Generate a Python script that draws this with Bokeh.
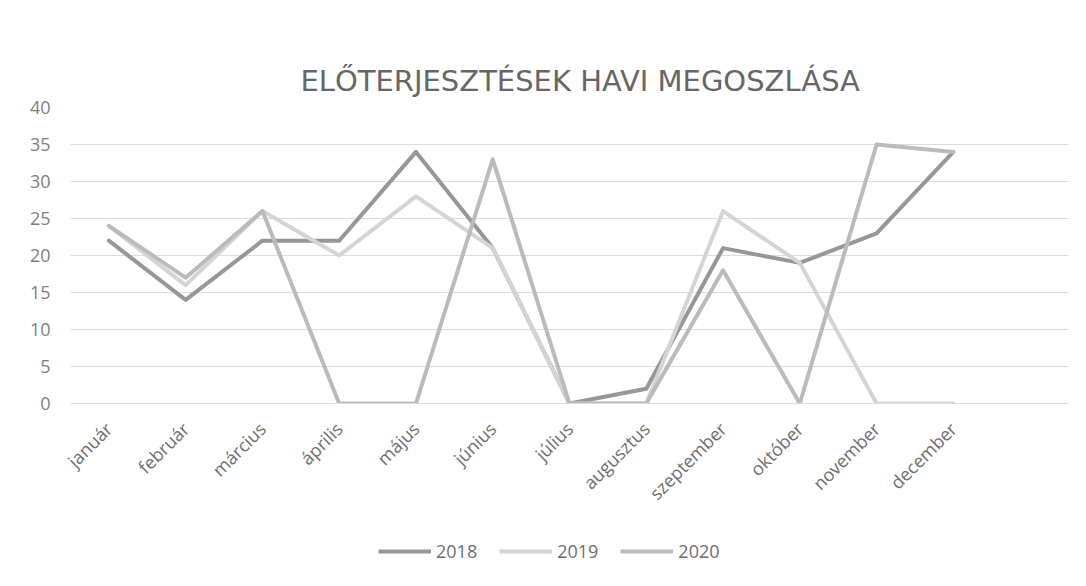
from bokeh.plotting import figure
from bokeh.layouts import column
from bokeh.models import FactorRange, Range1d, Legend, LegendItem, ColumnDataSource, FixedTicker, Title
from bokeh.embed import file_html
from bokeh.resources import INLINE
import math

months = ["január", "február", "március", "április", "május", "június",
          "július", "augusztus", "szeptember", "október", "november", "december"]
y2018 = [22, 14, 22, 22, 34, 21, 0, 2, 21, 19, 23, 34]
y2019 = [24, 16, 26, 20, 28, 21, 0, 0, 26, 19, 0, 0]
y2020 = [24, 17, 26, 0, 0, 33, 0, 0, 18, 0, 35, 34]
series_names = ["2018", "2019", "2020"]
series_colors = ["#979797", "#d4d4d4", "#bbbbbb"]
y_ticks = [0, 5, 10, 15, 20, 25, 30, 35, 40]

FONT = "Open Sans"
W = 1070

p = figure(width=W, height=520, output_backend="svg", toolbar_location=None,
           x_range=FactorRange(*(months + [" "]), range_padding=0),
           y_range=Range1d(0, 40),
           min_border_left=70, min_border_right=2, min_border_top=107, min_border_bottom=117)
p.outline_line_color = None
p.background_fill_color = "white"
p.border_fill_color = "white"

p.title = Title(text="ELŐTERJESZTÉSEK HAVI MEGOSZLÁSA", align="left",
                text_font="DejaVu Sans", text_font_size="29px", text_font_style="normal",
                text_color="#666666", offset=230, standoff=20)

for name, vals, col in zip(series_names, [y2018, y2019, y2020], series_colors):
    src = ColumnDataSource(dict(x=months, y=vals))
    p.line("x", "y", source=src, line_color=col, line_width=4,
           line_join="round", line_cap="round")

p.xgrid.grid_line_color = None
p.ygrid.grid_line_color = "#dcdcdc"
p.ygrid.grid_line_width = 1
p.yaxis.ticker = FixedTicker(ticks=y_ticks)
p.yaxis.axis_line_color = None
p.yaxis.major_tick_line_color = None
p.yaxis.minor_tick_line_color = None
p.yaxis.major_label_text_font = FONT
p.yaxis.major_label_text_font_size = "18px"
p.yaxis.major_label_text_color = "#808080"
p.yaxis.major_label_standoff = 14

p.xaxis.axis_line_color = "#dcdcdc"
p.xaxis.major_tick_line_color = None
p.xaxis.minor_tick_line_color = None
p.xaxis.major_label_orientation = math.pi / 4
p.xaxis.major_label_text_font = FONT
p.xaxis.major_label_text_font_size = "18px"
p.xaxis.major_label_text_color = "#6e6e6e"
p.xaxis.major_label_standoff = 16

# legend strip below the chart
lf = figure(width=W, height=50, output_backend="svg", toolbar_location=None,
            x_range=FactorRange(*months), y_range=Range1d(1000, 1001),
            min_border=0, min_border_left=0, min_border_right=0, min_border_top=0, min_border_bottom=0)
lf.axis.visible = False
lf.grid.visible = False
lf.outline_line_color = None
lf.border_fill_color = "white"
items = []
for name, vals, col in zip(series_names, [y2018, y2019, y2020], series_colors):
    src = ColumnDataSource(dict(x=months, y=vals))
    r = lf.line("x", "y", source=src, line_color=col, line_width=4)
    items.append(LegendItem(label=name, renderers=[r]))
legend = Legend(items=items, orientation="horizontal", location=(308, 7),
                glyph_width=53, glyph_height=20, label_standoff=5, spacing=22, padding=0, margin=0,
                label_text_font=FONT, label_text_font_size="18px", label_text_color="#6e6e6e",
                border_line_color=None, background_fill_alpha=0)
lf.add_layout(legend)

layout = column(p, lf, spacing=0)
open("out.html", "w").write(file_html(layout, INLINE))
